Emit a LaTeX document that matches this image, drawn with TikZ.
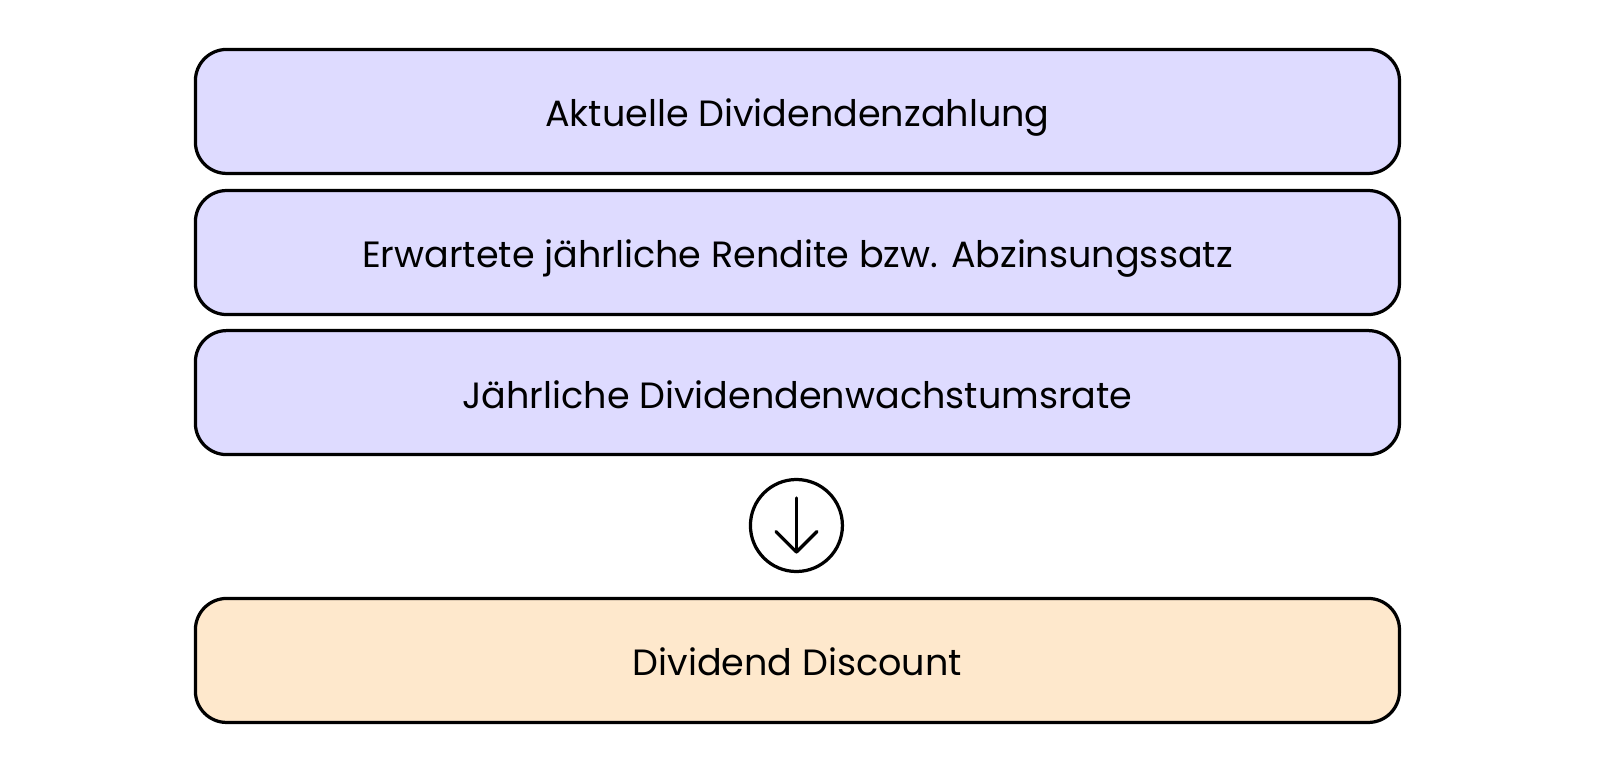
\documentclass[tikz,border=0pt]{standalone}
\usepackage{fontspec}
\setmainfont{Poppins}
\usetikzlibrary{positioning}
\definecolor{mlilac}{HTML}{DEDBFF}
\definecolor{mpeach}{HTML}{FEE8CC}
\tikzset{inputbox/.style = {draw=black, line width=2.3pt, rounded corners=0.78cm,
                            fill=mlilac, minimum width=30.1cm, minimum height=3.1cm,
                            text height=22pt, text depth=0pt,
                            font=\fontsize{26}{30}\selectfont},
         resultbox/.style = {inputbox, fill=mpeach}}

\begin{document}
\begin{tikzpicture}[x=0.02556cm, y=-0.02556cm]
      \useasboundingbox (0, 0) rectangle (1565, 753);

      \node [inputbox] (dividend) at (780, 109) {Aktuelle Dividendenzahlung};
      \node [inputbox] (rendite) at (780, 247) {Erwartete jährliche Rendite bzw. Abzinsungssatz};
      \node [inputbox] (wachstum) at (780, 384) {Jährliche Dividendenwachstumsrate};

      \node [draw, circle, line width=2.3pt, minimum size=2.3cm] (pfeil) at (779, 514) {};
      \draw [line width=2.3pt, line cap=round, line join=round] (pfeil.center) ++(0, -27) -- ++(0, 53);
      \draw [line width=2.3pt, line cap=round, line join=round] (pfeil.center) ++(-20, 6) -- ++(20, 20) -- ++(20, -20);

      \node [resultbox] (ergebnis) at (780, 646) {Dividend Discount};
    \end{tikzpicture}
\end{document}
